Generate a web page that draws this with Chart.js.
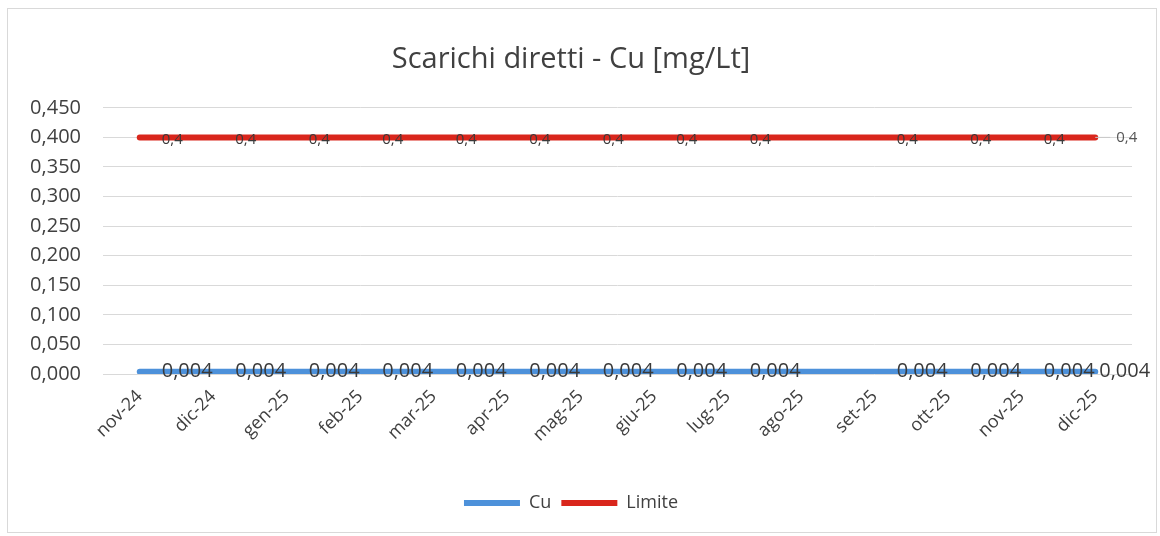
<!DOCTYPE html>
<html>
<head>
<meta charset="utf-8">
<script src="https://cdn.jsdelivr.net/npm/chart.js@4.4.1/dist/chart.umd.min.js"></script>
<style>
  html, body { margin: 0; padding: 0; background: #fff; }
  #wrap { position: relative; width: 1160px; height: 536px; }
  #frame { position: absolute; left: 7px; top: 8px; width: 1150px; height: 525px; border: 1px solid #d9d9d9; box-sizing: border-box; pointer-events: none; }
</style>
</head>
<body>
<div id="wrap">
  <canvas id="chart" width="1160" height="536"></canvas>
  <div id="frame"></div>
</div>
<script>
const months = ['nov-24', 'dic-24', 'gen-25', 'feb-25', 'mar-25', 'apr-25', 'mag-25',
                'giu-25', 'lug-25', 'ago-25', 'set-25', 'ott-25', 'nov-25', 'dic-25'];
const cuValues = [0.004, 0.004, 0.004, 0.004, 0.004, 0.004, 0.004,
                  0.004, 0.004, null, 0.004, 0.004, 0.004, 0.004];
const limiteValues = [0.4, 0.4, 0.4, 0.4, 0.4, 0.4, 0.4,
                      0.4, 0.4, null, 0.4, 0.4, 0.4, 0.4];
const yTicks = [0, 0.05, 0.1, 0.15, 0.2, 0.25, 0.3, 0.35, 0.4, 0.45];

const FONT = "'Open Sans', sans-serif";
const fmt = (v, d) => v.toFixed(d).replace('.', ',');

// little data-label plugin (Excel style, label right of the point)
const pointLabels = {
  id: 'pointLabels',
  afterDatasetsDraw(chart) {
    const ctx = chart.ctx;
    chart.data.datasets.forEach((ds, i) => {
      const meta = chart.getDatasetMeta(i);
      const last = ds.data.length - 1;
      meta.data.forEach((pt, j) => {
        const v = ds.data[j];
        if (v === null) return;
        ctx.save();
        ctx.textBaseline = 'middle';
        ctx.textAlign = 'left';
        if (ds.label === 'Cu') {
          ctx.font = '20px ' + FONT;
          ctx.fillStyle = '#3a3a3a';
          const dx = j === last ? 4 : 22;
          ctx.fillText(fmt(v, 3), pt.x + dx, pt.y);
        } else {
          ctx.font = '15px ' + FONT;
          if (j === last) {
            ctx.strokeStyle = '#c8c8c8';
            ctx.lineWidth = 1;
            ctx.beginPath();
            ctx.moveTo(pt.x, pt.y);
            ctx.lineTo(pt.x + 15, pt.y);
            ctx.stroke();
            ctx.fillStyle = '#555';
            ctx.fillText(fmt(v, 1), pt.x + 21, pt.y);
          } else {
            ctx.fillStyle = '#3a3a3a';
            ctx.fillText(fmt(v, 1), pt.x + 22, pt.y + 2);
          }
        }
        ctx.restore();
      });
    });
  }
};

new Chart(document.getElementById('chart'), {
  type: 'line',
  data: {
    labels: months,
    datasets: [
      {
        label: 'Cu',
        data: cuValues,
        borderColor: '#4d91da',
        backgroundColor: '#4d91da',
        borderWidth: 6,
        borderCapStyle: 'round',
        pointRadius: 0,
        spanGaps: true
      },
      {
        label: 'Limite',
        data: limiteValues,
        borderColor: '#d9261c',
        backgroundColor: '#d9261c',
        borderWidth: 6,
        borderCapStyle: 'round',
        pointRadius: 0,
        spanGaps: true
      }
    ]
  },
  options: {
    responsive: false,
    animation: false,
    layout: { padding: { left: 10, right: 28, top: 0, bottom: 14 } },
    plugins: {
      title: {
        display: true,
        text: 'Scarichi diretti - Cu [mg/Lt]',
        color: '#404040',
        font: { family: FONT, size: 29, weight: 'normal' },
        padding: { top: 42, bottom: 31 }
      },
      legend: {
        position: 'bottom',
        labels: {
          usePointStyle: true,
          pointStyle: 'line',
          pointStyleWidth: 56,
          color: '#404040',
          font: { family: FONT, size: 18 },
          padding: 10
        }
      },
      tooltip: { enabled: false }
    },
    scales: {
      x: {
        offset: true,
        grid: { display: false },
        border: { display: false },
        ticks: {
          color: '#404040',
          font: { family: FONT, size: 18 },
          maxRotation: 45,
          minRotation: 45,
          autoSkip: false,
          padding: 4
        },
        afterFit(scale) { scale.height = 110; }
      },
      y: {
        min: 0,
        max: 0.45,
        afterBuildTicks(scale) { scale.ticks = yTicks.map(v => ({ value: v })); },
        grid: { color: '#d9d9d9', drawTicks: false },
        border: { display: false },
        ticks: {
          color: '#404040',
          font: { family: FONT, size: 20 },
          padding: 22,
          callback: v => fmt(v, 3)
        },
        afterFit(scale) { scale.width = 93; }
      }
    }
  },
  plugins: [pointLabels]
});
</script>
</body>
</html>
